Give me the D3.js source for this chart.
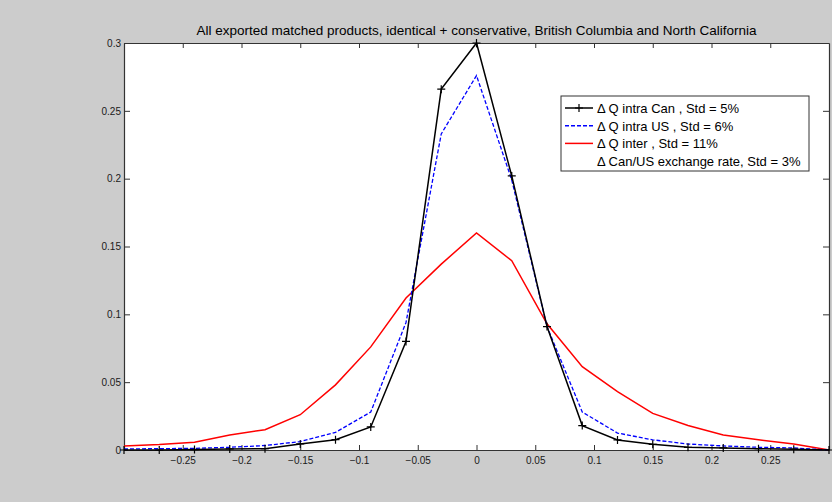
<!DOCTYPE html>
<html>
<head>
<meta charset="utf-8">
<script src="https://cdn.jsdelivr.net/npm/d3@7"></script>
<style>
  body { margin: 0; background: #cccccc; }
  svg { display: block; font-family: "Liberation Sans", Arial, sans-serif; }
</style>
</head>
<body>
<div id="chart"></div>
<script>
// data points, one every 0.03 from -0.3 to 0.3
var xValues = [-0.30, -0.27, -0.24, -0.21, -0.18, -0.15, -0.12, -0.09, -0.06, -0.03, 0,
               0.03, 0.06, 0.09, 0.12, 0.15, 0.18, 0.21, 0.24, 0.27, 0.30];

var intraCan = [0, 0, 0.0003, 0.0008, 0.001, 0.0045, 0.0076, 0.017, 0.080, 0.266, 0.300,
                0.202, 0.091, 0.018, 0.0074, 0.0042, 0.002, 0.0015, 0.001, 0.0006, 0];
var intraUS  = [0.0008, 0.001, 0.0012, 0.002, 0.0033, 0.0062, 0.013, 0.028, 0.094, 0.233, 0.276,
                0.199, 0.091, 0.028, 0.0125, 0.0075, 0.0044, 0.003, 0.002, 0.0015, 0];
var inter    = [0.003, 0.004, 0.0057, 0.011, 0.015, 0.026, 0.048, 0.076, 0.112, 0.137, 0.160,
                0.1395, 0.093, 0.0614, 0.043, 0.027, 0.018, 0.011, 0.0075, 0.0045, 0];

var xTicks = [-0.25, -0.2, -0.15, -0.1, -0.05, 0, 0.05, 0.1, 0.15, 0.2, 0.25];
var yTicks = [0, 0.05, 0.1, 0.15, 0.2, 0.25, 0.3];

var legendLabels = ["\u0394 Q intra Can , Std = 5%",
                    "\u0394 Q intra US , Std = 6%",
                    "\u0394 Q inter , Std = 11%",
                    "\u0394 Can/US exchange rate, Std = 3%"];

var titleText = "All exported matched products, identical + conservative, British Columbia and North California";

// plot box
var W = 832, H = 502;
var margin = {top: 43, right: 3, bottom: 52, left: 124},
  width = W - margin.left - margin.right,
  height = H - margin.top - margin.bottom;

var svg = d3.select("#chart")
  .append("svg")
    .attr("width", W)
    .attr("height", H);

svg.append("rect")
  .attr("width", W).attr("height", H)
  .attr("fill", "#cccccc");

var g = svg.append("g")
  .attr("transform", "translate(" + margin.left + "," + margin.top + ")");

var x = d3.scaleLinear().domain([-0.3, 0.3]).range([0, width]);
var y = d3.scaleLinear().domain([0, 0.3]).range([height, 0]);

g.append("rect")
  .attr("width", width).attr("height", height)
  .attr("fill", "#ffffff");

// axes, ticks pointing inward like matlab
var tickFmt = function(d) { return d === 0 ? "0" : d3.format("")(+d.toFixed(2)); };

var xAxis = g.append("g")
  .attr("transform", "translate(0," + height + ")")
  .call(d3.axisBottom(x).tickValues(xTicks).tickSizeInner(-5).tickSizeOuter(0).tickPadding(7).tickFormat(tickFmt));

var xAxisTop = g.append("g")
  .call(d3.axisTop(x).tickValues(xTicks).tickSizeInner(-5).tickSizeOuter(0).tickFormat(""));

var yAxis = g.append("g")
  .call(d3.axisLeft(y).tickValues(yTicks).tickSizeInner(-6).tickSizeOuter(0).tickPadding(3).tickFormat(tickFmt));

var yAxisRight = g.append("g")
  .attr("transform", "translate(" + width + ",0)")
  .call(d3.axisRight(y).tickValues(yTicks).tickSizeInner(-6).tickSizeOuter(0).tickFormat(""));

[xAxis, xAxisTop, yAxis, yAxisRight].forEach(function(a) {
  a.select(".domain").attr("stroke", "#333").attr("stroke-width", 1.2);
  a.selectAll(".tick line").attr("stroke", "#333");
  a.selectAll("text")
    .attr("fill", "#1a1a1a")
    .attr("font-size", "10px")
    .attr("font-family", "\"Liberation Sans\", Arial, sans-serif");
});

// title
svg.append("text")
  .attr("x", margin.left + x(0))
  .attr("y", 35)
  .attr("text-anchor", "middle")
  .attr("font-size", "13.5px")
  .attr("fill", "#000")
  .text(titleText);

// lines
var line = d3.line()
  .x(function(d) { return x(d[0]); })
  .y(function(d) { return y(d[1]); });

function pairs(vals) { return xValues.map(function(v, i) { return [v, vals[i]]; }); }

g.append("path")
  .datum(pairs(inter))
  .attr("fill", "none")
  .attr("stroke", "#ff0000")
  .attr("stroke-width", 1.5)
  .attr("d", line);

g.append("path")
  .datum(pairs(intraUS))
  .attr("fill", "none")
  .attr("stroke", "#0000ff")
  .attr("stroke-width", 1.3)
  .attr("stroke-dasharray", "4,2")
  .attr("d", line);

g.append("path")
  .datum(pairs(intraCan))
  .attr("fill", "none")
  .attr("stroke", "#000")
  .attr("stroke-width", 1.5)
  .attr("d", line);

// plus markers on the intra Can line
g.selectAll(".mk")
  .data(pairs(intraCan))
  .enter().append("path")
    .attr("class", "mk")
    .attr("transform", function(d) { return "translate(" + x(d[0]) + "," + y(d[1]) + ")"; })
    .attr("d", "M-4,0H4M0,-4V4")
    .attr("stroke", "#000")
    .attr("stroke-width", 1.2);

// legend
var leg = svg.append("g").attr("transform", "translate(561,96)");
leg.append("rect")
  .attr("width", 248).attr("height", 75)
  .attr("fill", "#fff").attr("stroke", "#333").attr("stroke-width", 1);

var legColors = ["#000", "#0000ff", "#ff0000", "none"];
var legDash = [null, "4,2", null, null];
legendLabels.forEach(function(lbl, i) {
  var ly = 12 + i * 17.7;
  if (legColors[i] !== "none") {
    leg.append("line")
      .attr("x1", 4).attr("x2", 32).attr("y1", ly).attr("y2", ly)
      .attr("stroke", legColors[i]).attr("stroke-width", 1.5)
      .attr("stroke-dasharray", legDash[i]);
  }
  if (i === 0) {
    leg.append("path")
      .attr("transform", "translate(18," + ly + ")")
      .attr("d", "M-4,0H4M0,-4V4")
      .attr("stroke", "#000").attr("stroke-width", 1.2);
  }
  leg.append("text")
    .attr("x", 36).attr("y", ly + 5)
    .attr("font-size", "13px")
    .attr("fill", "#000")
    .text(lbl);
});
</script>
</body>
</html>
